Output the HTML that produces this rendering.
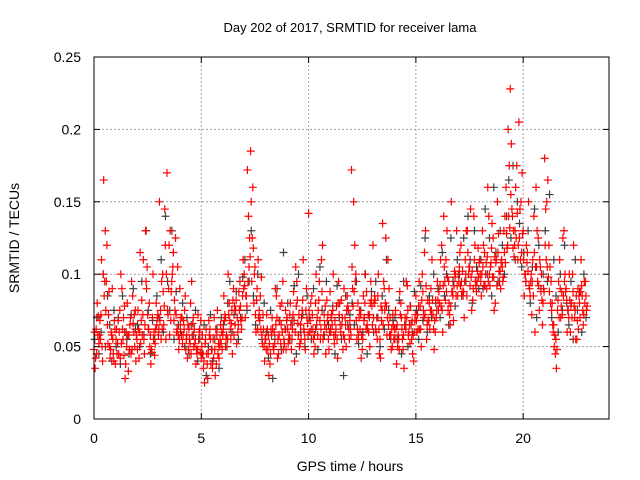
<!DOCTYPE html>
<html><head><meta charset="utf-8"><style>
body{margin:0;background:#fff}
svg{display:block;font-family:"Liberation Sans",sans-serif}
</style></head><body>
<svg id="chart" width="640" height="480" viewBox="0 0 640 480">
<rect width="640" height="480" fill="#fff"/>
<g id="grid"></g>
<g id="black-pts"></g>
<g id="red-pts"></g>
<g id="axes"></g>
<text x="350" y="32" font-size="13" text-anchor="middle">Day 202 of 2017, SRMTID for receiver lama</text>
<text x="350" y="471" font-size="14" text-anchor="middle">GPS time / hours</text>
<text x="19" y="238" font-size="14" text-anchor="middle" transform="rotate(-90 19 238)">SRMTID / TECUs</text>
</svg>
<script>
const xTicks=[0,5,10,15,20];
const yTicks=[0,0.05,0.1,0.15,0.2,0.25];
const yTickLabels=["0","0.05","0.1","0.15","0.2","0.25"];
const redA=[48,62,71,55,40,95,120,88,60,45,38,52,75,90,44,60,33,70,85,50,55,42,68,110,130,72,50,46,60,80,58,75,100,145,170,120,88,115,125,105,90,70,62,55,48,80,66,52,45,60,42,35,55,28,62,48,70,38,52,65,58,72,50,80,66,90,75,60,95,70,100,85,140,185,160,105,90,75,98,62,55,48,38,70,60,85,45,52,95,62,70,58,48,88,105,66,52,75,60,90,142,80,62,50,70,95,110,58,45,72,88,65,52,78,95,60,48,70,85,55,172,150,100,80,62,48,70,88,60,95,120,82,55,45,68,95,125,110,70,50,62,38,55,80,48,70,92,65,55,40,85,62,78,100,115,55,68,90,72,60,95,80,120,140,110,75,65,88,102,130,95,120,85,110,130,105,75,140,92,118,100,130,115,90,140,108,125,80,150,95,110,130,160,200,228,140,120,175,205,150,130,100,115,90,72,140,160,125,105,65,180,150,120,95,60,45,75,110,88,130,90,75,60,100,70,55,85,110,65,95];
const redB=[35,80,58,110,165,75,52,42,90,68,62,45,100,55,28,80,48,95,60,40,75,115,58,45,90,62,38,100,52,70,150,95,65,55,72,130,100,82,60,48,70,58,85,42,55,95,50,38,72,46,58,25,45,68,38,55,30,75,50,60,85,55,100,62,45,78,52,88,68,110,70,172,125,95,80,60,110,85,52,40,72,30,62,50,90,42,68,80,55,48,52,80,62,40,95,72,55,110,48,66,60,85,45,100,75,55,120,65,82,48,70,100,58,42,80,65,90,50,75,62,90,120,55,70,42,85,100,62,50,78,80,60,100,42,135,75,58,90,48,65,75,50,88,62,35,95,58,78,45,68,60,95,50,75,130,82,62,110,48,70,75,110,60,95,130,80,150,68,100,85,115,88,70,130,100,145,82,120,95,108,85,120,100,160,92,135,75,110,128,90,95,140,118,175,190,130,160,110,145,170,85,120,150,95,110,60,130,75,100,90,145,165,105,80,50,35,95,70,125,100,60,100,80,120,55,90,70,85,95,75];
const redC=[60,45,52,72,100,130,65,50,58,40,55,68,42,62,78,50,58,45,66,75,48,60,82,55,95,62,58,70,44,65,62,55,88,120,75,58,95,68,72,58,65,52,75,58,62,45,70,55,48,62,50,40,62,45,55,35,48,58,42,52,62,70,55,68,75,58,82,65,78,85,92,78,105,150,118,72,62,68,58,50,48,58,45,62,52,70,58,65,48,75,62,72,55,68,78,58,65,82,55,70,75,62,55,80,58,68,88,72,62,55,62,75,68,55,72,82,58,65,78,68,105,88,68,58,72,55,80,65,72,82,70,62,85,55,75,90,78,65,58,72,55,65,48,70,58,62,75,52,68,60,68,78,62,88,72,65,80,75,62,82,82,92,75,105,88,95,78,85,98,92,105,95,88,100,115,92,102,110,88,98,95,105,92,112,100,118,98,108,115,102,105,115,128,140,155,118,130,142,125,115,110,95,102,85,95,115,105,92,88,80,120,105,88,75,65,55,82,90,72,95,82,70,78,88,75,68,80,92,72,85];
const redD=[42,58,68,50,85,95,72,48,55,62,45,60,52,70,38,58,65,48,72,58,62,52,72,65,105,80,48,55,62,72,68,62,78,100,90,68,105,75,62,55,58,68,48,65,52,58,62,48,55,68,45,52,38,58,48,42,62,45,55,48,68,58,72,55,82,65,70,75,62,90,85,95,112,125,100,82,70,62,72,55,62,52,58,48,65,55,78,60,52,68,55,65,72,60,82,50,70,62,75,58,68,72,58,65,82,62,55,78,68,60,72,58,62,80,65,70,55,75,62,58,78,95,62,75,58,68,62,72,80,65,85,70,62,78,65,80,70,58,62,55,62,58,72,55,65,70,60,65,58,72,72,62,82,70,92,68,75,82,68,75,88,78,92,82,98,72,88,92,85,100,92,102,95,85,105,98,90,95,102,110,100,92,108,95,105,98,112,92,102,108,98,108,120,132,145,112,125,120,110,128,100,108,92,100,85,105,95,110,82,88,110,98,80,65,58,48,70,78,85,88,75,82,70,78,85,62,88,75,80,78];
const blackS=[55,70,45,60,100,50,85,65,40,75,50,70,38,85,60,55,45,72,90,62,65,50,95,58,130,75,45,68,55,85,70,110,60,140,95,75,130,55,88,65,60,80,50,70,45,65,58,75,40,55,45,65,30,50,72,40,55,62,35,70,65,50,80,95,60,72,88,55,70,98,110,75,95,130,85,65,100,70,55,80,60,42,75,28,55,90,68,48,115,62,80,55,68,92,45,100,60,72,50,85,70,55,90,62,48,105,75,58,95,65,60,78,45,92,70,55,30,85,65,72,80,65,95,52,75,60,100,45,70,88,60,95,70,50,85,62,110,75,55,68,70,55,82,45,95,65,50,78,60,88,75,55,92,68,125,60,85,70,100,80,90,70,115,85,100,65,125,95,78,110,100,85,125,95,140,110,80,130,105,90,110,90,145,100,125,85,160,115,95,130,120,100,140,165,125,175,110,150,135,105,115,95,130,80,105,145,70,120,90,100,130,95,155,70,110,85,60,100,75,120,80,65,95,55,110,75,88,60,100,70];
const X0=94,X1=609,Y0=419,Y1=57;
const xs=h=>X0+(X1-X0)*h/24;
const ys=v=>Y0-(Y0-Y1)*v/0.25;
const NS="http://www.w3.org/2000/svg";
function mk(tag,attrs,parent){const e=document.createElementNS(NS,tag);for(const k in attrs)e.setAttribute(k,attrs[k]);parent.appendChild(e);return e;}
const grid=document.getElementById('grid'),axes=document.getElementById('axes');
xTicks.forEach(t=>{
  if(t>0){const g=mk('line',{x1:xs(t),x2:xs(t),y1:Y0,y2:Y1,stroke:'#a0a0a0','stroke-dasharray':'2,2'},grid);
  
  }
  mk('line',{x1:xs(t),x2:xs(t),y1:Y0,y2:Y0-6,stroke:'#000'},axes);
  mk('line',{x1:xs(t),x2:xs(t),y1:Y1,y2:Y1+6,stroke:'#000'},axes);
  const l=mk('text',{x:xs(t),y:Y0+24,'font-size':14,'text-anchor':'middle'},axes);l.textContent=t;
  
  
});
yTicks.forEach((t,i)=>{
  if(t>0&&t<0.25){const g=mk('line',{x1:X0,x2:X1,y1:ys(t),y2:ys(t),stroke:'#a0a0a0','stroke-dasharray':'2,2'},grid);
  
  }
  mk('line',{x1:X0,x2:X0+6,y1:ys(t),y2:ys(t),stroke:'#000'},axes);
  mk('line',{x1:X1,x2:X1-6,y1:ys(t),y2:ys(t),stroke:'#000'},axes);
  const l=mk('text',{x:X0-13,y:ys(t)+5,'font-size':14,'text-anchor':'end'},axes);l.textContent=yTickLabels[i];
  
  
});
const frame=mk('rect',{x:X0,y:Y1,width:X1-X0,height:Y0-Y1,fill:'none',stroke:'#000','stroke-width':1},axes);


function plus(parent,h,v,col){
  const x=xs(h),y=ys(v);
  const p=mk('path',{d:`M${x-4},${y}H${x+4}M${x},${y-4}V${y+4}`,stroke:col,'stroke-width':1.2,fill:'none'},parent);
  
  
}
const bg=document.getElementById('black-pts'),rg=document.getElementById('red-pts');
blackS.forEach((v,i)=>plus(bg,i*0.1+0.03,v/1000,'#404040'));
redA.forEach((v,i)=>plus(rg,i*0.1,v/1000,'#ff0000'));
redB.forEach((v,i)=>plus(rg,i*0.1+0.05,v/1000,'#ff0000'));
redC.forEach((v,i)=>plus(rg,i*0.1+0.025,v/1000,'#ff0000'));
redD.forEach((v,i)=>plus(rg,i*0.1+0.075,v/1000,'#ff0000'));
</script>
</body></html>
